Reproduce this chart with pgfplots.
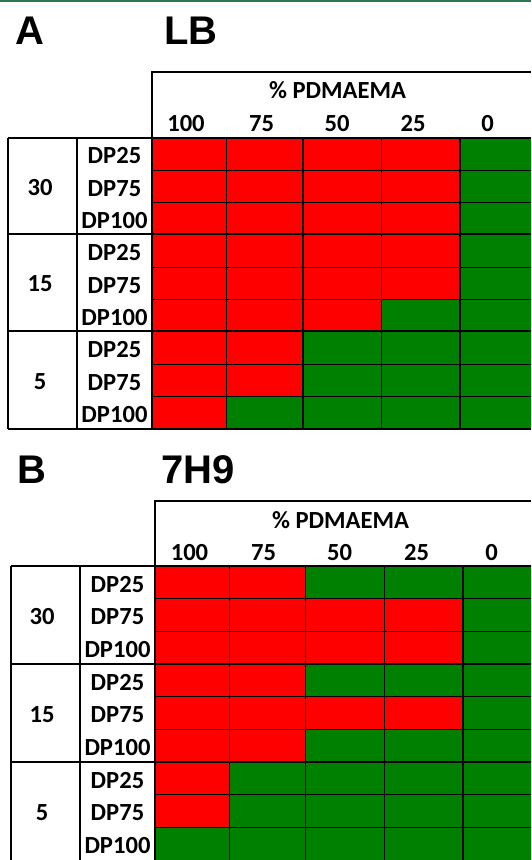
\documentclass[border=0pt]{standalone}
\usepackage{fontspec}
\setmainfont{Carlito}
\newfontfamily\arialf{Liberation Sans}
\usepackage{pgfplots}
\pgfplotsset{compat=1.18}
\usepackage{pgfplotstable}
\definecolor{topgreen}{RGB}{46,120,80}
\definecolor{cellred}{RGB}{255,0,0}
\definecolor{cellgreen}{RGB}{0,128,0}
\tikzset{
  tbl/.style={font=\fontsize{12.3}{14}\selectfont\bfseries, inner sep=0pt, anchor=base},
  pnl/.style={font=\arialf\fontsize{20}{24}\selectfont\bfseries, inner sep=0pt, anchor=base west},
  thin grid/.style={line width=0.6pt, black},
}

% panel A (LB): x = column centre (px), y = row centre (px), c = 0 red / 1 green
\pgfplotstableread{
x y c
189 154.17 0
264 154.17 0
342 154.17 0
421 154.17 0
499 154.17 1
189 186.50 0
264 186.50 0
342 186.50 0
421 186.50 0
499 186.50 1
189 218.83 0
264 218.83 0
342 218.83 0
421 218.83 0
499 218.83 1
189 251.17 0
264 251.17 0
342 251.17 0
421 251.17 0
499 251.17 1
189 283.50 0
264 283.50 0
342 283.50 0
421 283.50 0
499 283.50 1
189 315.83 0
264 315.83 0
342 315.83 0
421 315.83 1
499 315.83 1
189 348.17 0
264 348.17 0
342 348.17 1
421 348.17 1
499 348.17 1
189 380.50 0
264 380.50 0
342 380.50 1
421 380.50 1
499 380.50 1
189 412.83 0
264 412.83 1
342 412.83 1
421 412.83 1
499 412.83 1
}\tableA

% panel B (7H9)
\pgfplotstableread{
x y c
192 582.33 0
266.5 582.33 0
344.5 582.33 1
424 582.33 1
502 582.33 1
192 615.00 0
266.5 615.00 0
344.5 615.00 0
424 615.00 0
502 615.00 1
192 647.67 0
266.5 647.67 0
344.5 647.67 0
424 647.67 0
502 647.67 1
192 680.33 0
266.5 680.33 0
344.5 680.33 1
424 680.33 1
502 680.33 1
192 713.00 0
266.5 713.00 0
344.5 713.00 0
424 713.00 0
502 713.00 1
192 745.67 0
266.5 745.67 0
344.5 745.67 1
424 745.67 1
502 745.67 1
192 778.33 0
266.5 778.33 1
344.5 778.33 1
424 778.33 1
502 778.33 1
192 811.00 0
266.5 811.00 1
344.5 811.00 1
424 811.00 1
502 811.00 1
192 843.67 1
266.5 843.67 1
344.5 843.67 1
424 843.67 1
502 843.67 1
}\tableB

\begin{document}
\begin{tikzpicture}
\begin{axis}[
  width=265.5pt, height=430pt, scale only axis,
  xmin=0, xmax=531, ymin=0, ymax=860, y dir=reverse,
  axis line style={draw=none}, ticks=none,
  axis background/.style={fill=white},
  colormap={rg}{color=(cellred) color=(cellgreen)},
  point meta min=0, point meta max=1,
]
\addplot[matrix plot*, mesh/cols=5, point meta=explicit]
  table[x=x, y=y, meta=c] {\tableA};
\addplot[matrix plot*, mesh/cols=5, point meta=explicit]
  table[x=x, y=y, meta=c] {\tableB};

% top green rule
\fill[topgreen] (axis cs:0,0) rectangle (axis cs:531,1.6);

% ---------- Panel A thin cell lines ----------
\draw[thin grid] (axis cs:226.5,138) -- (axis cs:226.5,429);
\draw[thin grid] (axis cs:303,138) -- (axis cs:303,429);
\draw[thin grid] (axis cs:381.5,138) -- (axis cs:381.5,429);
\draw[thin grid] (axis cs:460,138) -- (axis cs:460,429);
\draw[thin grid] (axis cs:152,170.33) -- (axis cs:531,170.33);
\draw[thin grid] (axis cs:152,202.67) -- (axis cs:531,202.67);
\draw[thin grid] (axis cs:152,267.33) -- (axis cs:531,267.33);
\draw[thin grid] (axis cs:152,299.67) -- (axis cs:531,299.67);
\draw[thin grid] (axis cs:152,364.33) -- (axis cs:531,364.33);
\draw[thin grid] (axis cs:152,396.67) -- (axis cs:531,396.67);

% ---------- Panel B thin cell lines ----------
\draw[thin grid] (axis cs:229.25,566) -- (axis cs:229.25,860);
\draw[thin grid] (axis cs:305.5,566) -- (axis cs:305.5,860);
\draw[thin grid] (axis cs:384.25,566) -- (axis cs:384.25,860);
\draw[thin grid] (axis cs:463,566) -- (axis cs:463,860);
\draw[thin grid] (axis cs:155,598.67) -- (axis cs:531,598.67);
\draw[thin grid] (axis cs:155,631.33) -- (axis cs:531,631.33);
\draw[thin grid] (axis cs:155,696.67) -- (axis cs:531,696.67);
\draw[thin grid] (axis cs:155,729.33) -- (axis cs:531,729.33);
\draw[thin grid] (axis cs:155,794.67) -- (axis cs:531,794.67);
\draw[thin grid] (axis cs:155,827.33) -- (axis cs:531,827.33);

% ---------- Panel A frame ----------
\draw[line width=1pt] (axis cs:152,138) -- (axis cs:152,72) -- (axis cs:531,72);
\draw[line width=1pt] (axis cs:8,138) -- (axis cs:531,138);
\draw[line width=1pt] (axis cs:8,234.5) -- (axis cs:531,234.5);
\draw[line width=1pt] (axis cs:8,331) -- (axis cs:531,331);
\draw[line width=1pt] (axis cs:8,429) -- (axis cs:531,429);
\draw[line width=1pt] (axis cs:8,138) -- (axis cs:8,429);
\draw[line width=1pt] (axis cs:77,138) -- (axis cs:77,429);
\draw[line width=1pt] (axis cs:152,138) -- (axis cs:152,429);

% ---------- Panel B frame ----------
\draw[line width=1pt] (axis cs:155,566) -- (axis cs:155,501) -- (axis cs:531,501);
\draw[line width=1pt] (axis cs:11,566) -- (axis cs:531,566);
\draw[line width=1pt] (axis cs:11,664) -- (axis cs:531,664);
\draw[line width=1pt] (axis cs:11,762) -- (axis cs:531,762);
\draw[line width=1pt] (axis cs:11,566) -- (axis cs:11,860);
\draw[line width=1pt] (axis cs:80,566) -- (axis cs:80,860);
\draw[line width=1pt] (axis cs:155,566) -- (axis cs:155,860);

% ---------- Panel A text ----------
\node[pnl] at (axis cs:15,45) {A};
\node[pnl] at (axis cs:164,45) {LB};
\node[tbl] at (axis cs:337.5,99) {\% PDMAEMA};
\node[tbl] at (axis cs:186,132) {100};
\node[tbl] at (axis cs:261.5,132) {75};
\node[tbl] at (axis cs:337,132) {50};
\node[tbl] at (axis cs:413,132) {25};
\node[tbl] at (axis cs:487.5,132) {0};
\node[tbl] at (axis cs:40,195.5) {30};
\node[tbl] at (axis cs:40,292) {15};
\node[tbl] at (axis cs:40,389.8) {5};
\node[tbl] at (axis cs:114.5,163.97) {DP25};
\node[tbl] at (axis cs:114.5,196.3) {DP75};
\node[tbl] at (axis cs:114.5,228.63) {DP100};
\node[tbl] at (axis cs:114.5,260.97) {DP25};
\node[tbl] at (axis cs:114.5,293.3) {DP75};
\node[tbl] at (axis cs:114.5,325.63) {DP100};
\node[tbl] at (axis cs:114.5,357.97) {DP25};
\node[tbl] at (axis cs:114.5,390.3) {DP75};
\node[tbl] at (axis cs:114.5,422.63) {DP100};

% ---------- Panel B text ----------
\node[pnl] at (axis cs:17,483) {B};
\node[pnl] at (axis cs:161,483) {7H9};
\node[tbl] at (axis cs:340.5,528) {\% PDMAEMA};
\node[tbl] at (axis cs:189.5,560) {100};
\node[tbl] at (axis cs:263.5,560) {75};
\node[tbl] at (axis cs:339.5,560) {50};
\node[tbl] at (axis cs:416.5,560) {25};
\node[tbl] at (axis cs:491.5,560) {0};
\node[tbl] at (axis cs:42,624.7) {30};
\node[tbl] at (axis cs:42,722.7) {15};
\node[tbl] at (axis cs:42,820.7) {5};
\node[tbl] at (axis cs:117.5,592.13) {DP25};
\node[tbl] at (axis cs:117.5,624.8) {DP75};
\node[tbl] at (axis cs:117.5,657.47) {DP100};
\node[tbl] at (axis cs:117.5,690.13) {DP25};
\node[tbl] at (axis cs:117.5,722.8) {DP75};
\node[tbl] at (axis cs:117.5,755.47) {DP100};
\node[tbl] at (axis cs:117.5,788.13) {DP25};
\node[tbl] at (axis cs:117.5,820.8) {DP75};
\node[tbl] at (axis cs:117.5,853.47) {DP100};
\end{axis}
\end{tikzpicture}
\end{document}
